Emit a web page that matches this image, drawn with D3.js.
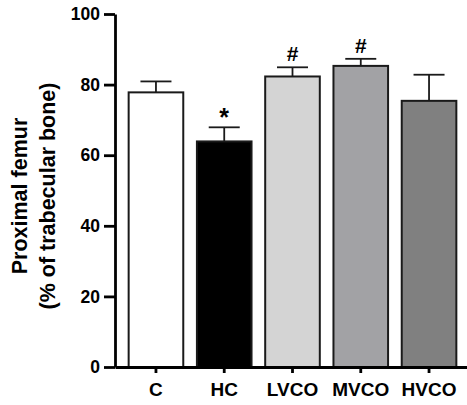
<!DOCTYPE html>
<html>
<head>
<meta charset="utf-8">
<script src="https://cdn.jsdelivr.net/npm/d3@7"></script>
<style>
	body { margin: 0; background: #fff; }
	text { font-family: "Liberation Sans", Arial, sans-serif; font-weight: bold; fill: #000; }
</style>
</head>
<body>
<svg id="chart" width="467" height="405"></svg>
<script>
// Group names, means and SEM (upper error only)
var groups = ["C", "HC", "LVCO", "MVCO", "HVCO"];
var means = [77.8, 63.9, 82.3, 85.3, 75.4];
var errors = [3.1, 4.0, 2.6, 2.0, 7.4];
var marks = ["", "*", "#", "#", ""];
var fills = ["#ffffff", "#000000", "#d4d4d4", "#a2a2a5", "#808080"];
var yTicks = [0, 20, 40, 60, 80, 100];

var svg = d3.select("#chart");

var x = d3.scaleBand()
	.domain(groups)
	.range([115, 470])
	.paddingInner(0.2)
	.paddingOuter(0.2);

var y = d3.scaleLinear()
	.domain([0, 100])
	.range([367, 14]);

var data = groups.map(function(g, i) {
	return { name: g, mean: means[i], err: errors[i], mark: marks[i], fill: fills[i] };
});

// Bars
svg.append("g")
	.attr("class", "bars")
	.selectAll("rect")
	.data(data)
	.enter()
	.append("rect")
	.attr("x", (d) => x(d.name))
	.attr("y", (d) => y(d.mean))
	.attr("width", x.bandwidth())
	.attr("height", (d) => y(0) - y(d.mean))
	.attr("fill", (d) => d.fill)
	.attr("stroke", "#1a1a1a")
	.attr("stroke-width", 2);

// Error bars (upper only)
var err = svg.append("g")
	.attr("class", "errors")
	.selectAll("g")
	.data(data)
	.enter()
	.append("g");

err.append("line")
	.attr("x1", (d) => x(d.name) + x.bandwidth() / 2)
	.attr("x2", (d) => x(d.name) + x.bandwidth() / 2)
	.attr("y1", (d) => y(d.mean))
	.attr("y2", (d) => y(d.mean + d.err))
	.attr("stroke", "#1a1a1a")
	.attr("stroke-width", 1.8);

err.append("line")
	.attr("x1", (d) => x(d.name) + x.bandwidth() / 2 - 15.5)
	.attr("x2", (d) => x(d.name) + x.bandwidth() / 2 + 15.5)
	.attr("y1", (d) => y(d.mean + d.err))
	.attr("y2", (d) => y(d.mean + d.err))
	.attr("stroke", "#1a1a1a")
	.attr("stroke-width", 1.8);

// Significance marks
svg.append("g")
	.attr("class", "marks")
	.selectAll("text")
	.data(data.filter((d) => d.mark))
	.enter()
	.append("text")
	.attr("x", (d) => x(d.name) + x.bandwidth() / 2)
	.attr("y", function(d) {
		return y(d.mean + d.err) - (d.mark === "*" ? 1 : 6);
	})
	.attr("text-anchor", "middle")
	.style("font-size", (d) => d.mark === "*" ? "25px" : "21px")
	.text((d) => d.mark);

// Y axis
var yAxis = svg.append("g")
	.attr("transform", "translate(115,0)")
	.call(d3.axisLeft(y).tickValues(yTicks).tickSize(11).tickSizeOuter(0).tickPadding(4));

yAxis.select(".domain").attr("stroke-width", 2.8);
yAxis.selectAll(".tick line").attr("stroke-width", 2.8);
yAxis.selectAll(".tick text").style("font-size", "17.5px");

// X axis
var xAxis = svg.append("g")
	.attr("transform", "translate(0,367)")
	.call(d3.axisBottom(x).tickSize(6).tickSizeOuter(0).tickPadding(10));

xAxis.select(".domain").attr("stroke-width", 2.8);
xAxis.selectAll(".tick line").attr("stroke-width", 2.8);
xAxis.selectAll(".tick text").style("font-size", "19px");

// Y label
var label = svg.append("text")
	.attr("transform", "translate(0,196) rotate(-90)")
	.attr("text-anchor", "middle")
	.style("font-size", "21.5px");

label.append("tspan").attr("x", 0).attr("y", 27).text("Proximal femur");
label.append("tspan").attr("x", 0).attr("y", 55).text("(% of trabecular bone)");
</script>
</body>
</html>
